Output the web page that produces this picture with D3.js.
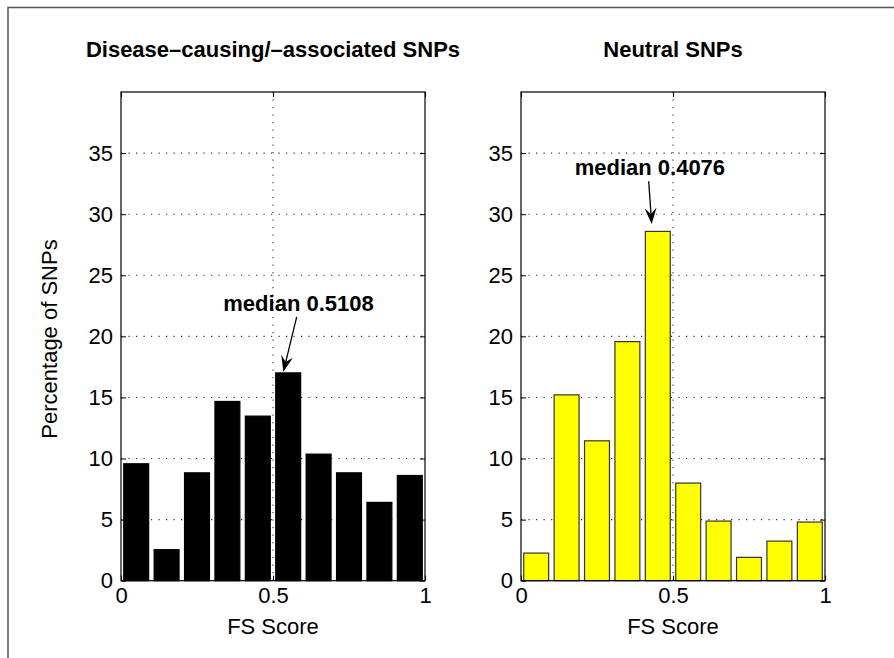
<!DOCTYPE html>
<html>
<head>
<meta charset="utf-8">
<script src="https://cdn.jsdelivr.net/npm/d3@7"></script>
<style>
  html, body { margin: 0; padding: 0; background: #fff; }
  svg { display: block; }
  text { font-family: "Liberation Sans", Arial, Helvetica, sans-serif; }
</style>
</head>
<body>
<svg id="chart" width="894" height="658"></svg>
<script>
// ---- data ----
const binCenters = [0.05, 0.15, 0.25, 0.35, 0.45, 0.55, 0.65, 0.75, 0.85, 0.95];
const diseaseValues = [9.57, 2.54, 8.83, 14.67, 13.47, 17.01, 10.36, 8.83, 6.41, 8.61];
const neutralValues = [2.26, 15.21, 11.45, 19.57, 28.59, 7.99, 4.88, 1.91, 3.24, 4.80];
const panelTitles = ["Disease\u2013causing/\u2013associated SNPs", "Neutral SNPs"];
const medians = [0.5108, 0.4076];
const medianLabels = ["median 0.5108", "median 0.4076"];
const yTicks = [0, 5, 10, 15, 20, 25, 30, 35];
const yGrid = [5, 10, 15, 20, 25, 30, 35];
const xTicks = [0, 0.5, 1];
const xTickLabels = ["0", "0.5", "1"];
const xLabel = "FS Score";
const yLabel = "Percentage of SNPs";
// annotation placement (data units): text anchor x, text baseline y, arrow tail, arrow tip
const annotText = [[0.584, 22.1], [0.424, 33.2]];
const annotTail = [[0.578, 21.6], [0.42, 32.7]];
const annotTip  = [[0.534, 17.1], [0.43, 29.2]];

(function () {
// ---- layout ----
const svg = d3.select("#chart");
const plotTop = 92, plotBottom = 580.7;
const panels = [
  { x0: 121, x1: 425, values: diseaseValues, fill: "#000000", stroke: "#000000" },
  { x0: 521, x1: 825, values: neutralValues, fill: "#ffff00", stroke: "#333333" }
];
const y = d3.scaleLinear().domain([0, 40]).range([plotBottom, plotTop]);
const FONT = 22;

// outer frame
svg.append("path")
  .attr("d", "M8,660 L8,7.5 L896,7.5")
  .attr("fill", "none").attr("stroke", "#555").attr("stroke-width", 1.5);

panels.forEach((p, i) => {
  const x = d3.scaleLinear().domain([0, 1]).range([p.x0, p.x1]);
  const g = svg.append("g");
  const binW = x(0.1) - x(0);

  // grid
  g.selectAll(".hg").data(yGrid).enter().append("line")
    .attr("x1", p.x0).attr("x2", p.x1)
    .attr("y1", d => y(d)).attr("y2", d => y(d))
    .attr("stroke", "#333").attr("stroke-width", 1.1).attr("stroke-dasharray", "1.2,6.3");
  g.append("line")
    .attr("x1", x(0.5)).attr("x2", x(0.5)).attr("y1", plotTop).attr("y2", plotBottom)
    .attr("stroke", "#333").attr("stroke-width", 1.1).attr("stroke-dasharray", "1.2,6.3");

  // bars
  g.selectAll(".bar").data(p.values).enter().append("rect")
    .attr("x", (d, j) => x(binCenters[j]) - binW * 0.41)
    .attr("width", binW * 0.82)
    .attr("y", d => y(d))
    .attr("height", d => y(0) - y(d))
    .attr("fill", p.fill).attr("stroke", p.stroke).attr("stroke-width", 1.2);

  // axes box
  g.append("rect")
    .attr("x", p.x0).attr("y", plotTop).attr("width", p.x1 - p.x0).attr("height", plotBottom - plotTop)
    .attr("fill", "none").attr("stroke", "#000").attr("stroke-width", 1.2);

  // y axis ticks (inward, mirrored)
  const yAxL = d3.axisRight(y).tickValues(yTicks).tickSize(5).tickFormat("");
  g.append("g").attr("transform", `translate(${p.x0},0)`).call(yAxL)
    .call(s => s.select(".domain").remove());
  const yAxR = d3.axisLeft(y).tickValues(yTicks).tickSize(5).tickFormat("");
  g.append("g").attr("transform", `translate(${p.x1},0)`).call(yAxR)
    .call(s => s.select(".domain").remove());
  // y tick labels
  const yLab = d3.axisLeft(y).tickValues(yTicks).tickSize(0).tickPadding(8).tickFormat(d => String(d));
  g.append("g").attr("transform", `translate(${p.x0},0)`).call(yLab)
    .call(s => s.select(".domain").remove())
    .call(s => s.selectAll("text").attr("font-size", FONT).attr("fill", "#000")
      .attr("font-family", "Liberation Sans, Arial, sans-serif"));

  // x axis ticks
  const xAxB = d3.axisTop(x).tickValues(xTicks).tickSize(5).tickFormat("");
  g.append("g").attr("transform", `translate(0,${plotBottom})`).call(xAxB)
    .call(s => s.select(".domain").remove());
  const xAxT = d3.axisBottom(x).tickValues(xTicks).tickSize(5).tickFormat("");
  g.append("g").attr("transform", `translate(0,${plotTop})`).call(xAxT)
    .call(s => s.select(".domain").remove());
  const xLab = d3.axisBottom(x).tickValues(xTicks).tickSize(0).tickPadding(7)
    .tickFormat((d, j) => xTickLabels[j]);
  g.append("g").attr("transform", `translate(0,${plotBottom})`).call(xLab)
    .call(s => s.select(".domain").remove())
    .call(s => s.selectAll("text").attr("font-size", FONT).attr("fill", "#000")
      .attr("font-family", "Liberation Sans, Arial, sans-serif"));
  g.selectAll(".tick line").attr("stroke", "#000");

  // x label
  g.append("text").attr("x", (p.x0 + p.x1) / 2).attr("y", 634)
    .attr("text-anchor", "middle").attr("font-size", FONT).text(xLabel);

  // title
  g.append("text").attr("x", (p.x0 + p.x1) / 2).attr("y", 57)
    .attr("text-anchor", "middle").attr("font-size", FONT).attr("font-weight", "bold")
    .text(panelTitles[i]);

  // median annotation
  g.append("text").attr("x", x(annotText[i][0])).attr("y", y(annotText[i][1]))
    .attr("text-anchor", "middle").attr("font-size", FONT).attr("font-weight", "bold")
    .text(medianLabels[i]);
  const tx = x(annotTail[i][0]), ty = y(annotTail[i][1]);
  const hx = x(annotTip[i][0]), hy = y(annotTip[i][1]);
  const ang = Math.atan2(hy - ty, hx - tx);
  const L = 16, W = 6, notch = 10;
  const ux = Math.cos(ang), uy = Math.sin(ang), px = -uy, py = ux;
  const bx = hx - ux * L, by = hy - uy * L;
  const nx = hx - ux * notch, ny = hy - uy * notch;
  g.append("line").attr("x1", tx).attr("y1", ty).attr("x2", nx).attr("y2", ny)
    .attr("stroke", "#000").attr("stroke-width", 1.3);
  g.append("path")
    .attr("d", `M${hx},${hy} L${bx + px * W},${by + py * W} L${nx},${ny} L${bx - px * W},${by - py * W} Z`)
    .attr("fill", "#000");
});

// y label
svg.append("text")
  .attr("transform", `translate(57,339) rotate(-90)`)
  .attr("text-anchor", "middle").attr("font-size", FONT).text(yLabel);
})();
</script>
</body>
</html>
